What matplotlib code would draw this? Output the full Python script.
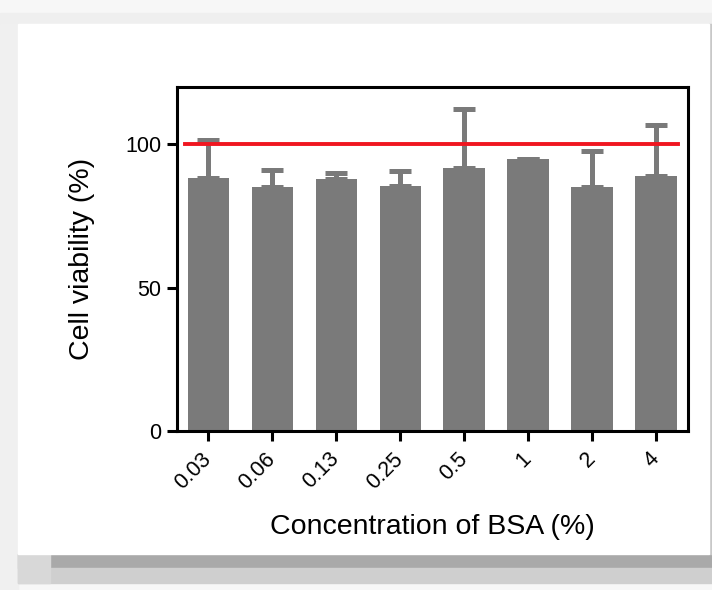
import numpy as np
import matplotlib
matplotlib.use("Agg")
import matplotlib.pyplot as plt
from matplotlib.patches import Rectangle

plt.rcParams['font.family'] = ['Liberation Sans', 'DejaVu Sans']

# data
labels = ['0.03', '0.06', '0.13', '0.25', '0.5', '1', '2', '4']
viability = [88.4, 85.1, 87.8, 85.4, 91.9, 94.8, 85.1, 88.9]
err_up = [13.0, 6.0, 2.2, 5.3, 20.6, 0.0, 12.5, 18.0]
reference = 100

W, H = 712, 590
fig = plt.figure(figsize=(W / 100, H / 100), dpi=100, facecolor='#f7f7f7')

# screenshot frame around the figure (pixel boxes -> figure fractions)
def px_rect(x0, y0, x1, y1, color):
    fig.patches.append(Rectangle((x0 / W, 1 - y1 / H), (x1 - x0) / W, (y1 - y0) / H,
                                 transform=fig.transFigure, color=color, zorder=-10))

px_rect(0, 13, W, 24, '#efefef')
px_rect(0, 24, 18, H, '#f0f0f0')
px_rect(18, 554, W, 568, '#a9a9a9')
px_rect(18, 568, W, 583, '#cfcfcf')
px_rect(18, 554, 50, 583, '#d8d8d8')
px_rect(709, 24, W, 554, '#c8c8c8')
px_rect(18, 24, 709, 554, 'white')

ax = fig.add_axes([176.5 / W, 1 - 431 / H, 511.5 / W, 344 / H])
ax.set_facecolor('white')

x = np.arange(len(labels))
bar_color = '#7a7a7a'
ax.bar(x, viability, width=0.65, color=bar_color, zorder=2)
ax.errorbar(x, viability, yerr=[np.zeros(len(x)), err_up], fmt='none',
            ecolor=bar_color, elinewidth=3.6, capsize=8, capthick=3.6, zorder=2)
ax.plot([-0.36, 7.34], [reference, reference], color='#f01620', lw=2.8, zorder=3)

ax.set_xlim(-0.5, 7.5)
ax.set_ylim(0, 120)
ax.set_yticks([0, 50, 100])
ax.set_xticks(x)
ax.set_xticklabels(labels, rotation=45, ha='right', va='center', rotation_mode='anchor')

for s in ax.spines.values():
    s.set_linewidth(2.2)
ax.tick_params(axis='both', length=7, width=2.2, labelsize=15.5, color='black')
ax.tick_params(axis='y', pad=4)
ax.tick_params(axis='x', pad=11)

ax.set_ylabel('Cell viability (%)', fontsize=20.5, labelpad=22)
ax.set_xlabel('Concentration of BSA (%)', fontsize=20.5, labelpad=15)

fig.savefig('out.png', dpi=100, facecolor=fig.get_facecolor())
